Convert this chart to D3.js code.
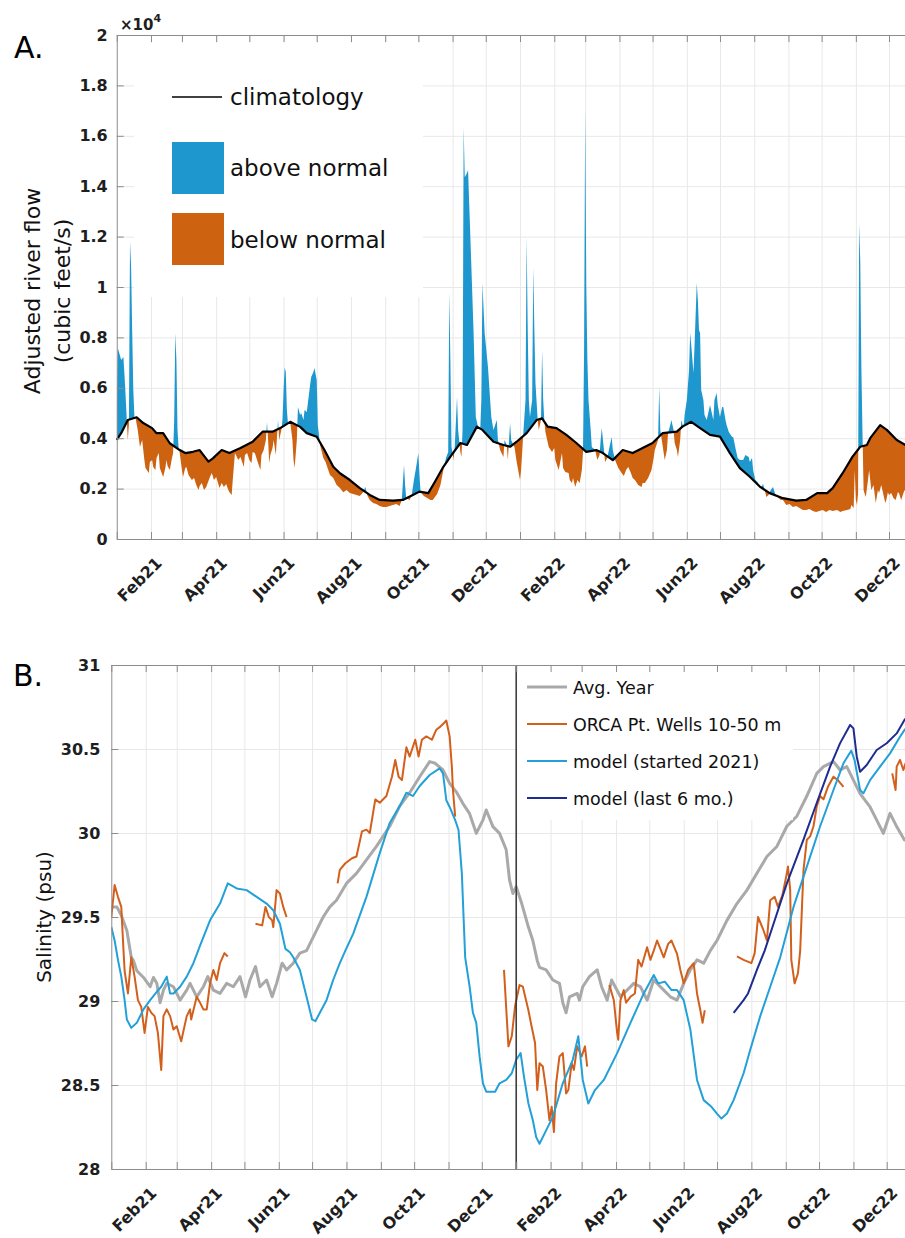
<!DOCTYPE html>
<html>
<head>
<meta charset="utf-8">
<script src="https://cdn.jsdelivr.net/npm/d3@7"></script>
<style>
  body { margin: 0; background: #fff; }
  svg { display: block; font-family: "DejaVu Sans", sans-serif; }
  .grid line { stroke: #e8e8e8; stroke-width: 1; }
  .grid path { display: none; }
  .axis path, .axis line { stroke: #8c8c8c; stroke-width: 1; }
  .axis text, .xlbl { font-family: "DejaVu Sans", sans-serif; font-size: 16px; font-weight: bold; fill: #1e1e1e; }
</style>
</head>
<body>
<div id="chart"></div>
<script>
// ---- panel A: adjusted river flow (cfs), [day since 2021-01-01, value]
var climatology = [[0,3930],[4,4200],[10,4720],[18,4830],[24,4600],[32,4400],[36,4200],[42,4200],[48,3800],[57,3530],[62,3410],[69,3460],[75,3530],[83,3070],[87,3200],[95,3530],[102,3410],[112,3610],[123,3860],[132,4260],[141,4260],[148,4400],[157,4650],[166,4450],[172,4200],[181,4060],[188,3530],[196,2870],[202,2610],[211,2340],[220,2020],[229,1750],[238,1550],[250,1520],[259,1550],[268,1750],[274,1880],[282,1820],[288,2270],[295,2820],[302,3270],[311,3810],[317,3730],[326,4460],[331,4330],[341,3860],[350,3730],[356,3660],[362,3860],[371,4200],[380,4720],[385,4790],[390,4460],[398,4400],[407,4130],[416,3810],[425,3460],[434,3530],[440,3410],[449,3130],[458,3530],[467,3410],[476,3610],[485,3810],[494,4200],[507,4260],[512,4460],[520,4650],[528,4400],[537,4130],[546,4060],[555,3410],[564,2810],[573,2470],[582,2080],[591,1820],[603,1620],[615,1520],[624,1550],[634,1820],[643,1820],[648,2020],[657,2610],[666,3270],[673,3660],[679,3730],[682,4000],[691,4520],[697,4330],[706,3930],[714,3730],[730,3700]];

var flow = [[0,5400],[1,7580],[2,7420],[4,7100],[6,7220],[7,6510],[8,5710],[9,4800],[10,3930],[11,4520],[12,11820],[13,10790],[14,8170],[15,5910],[16,4840],[17,4800],[19,4330],[21,3650],[23,3930],[25,3130],[26,2820],[29,2620],[30,3060],[32,3130],[33,2860],[35,2740],[36,3210],[38,3410],[39,2820],[41,2580],[42,2460],[44,2820],[45,3130],[46,2900],[48,2740],[50,3210],[51,3410],[52,4720],[53,8170],[54,7100],[55,4330],[56,3610],[57,3410],[59,2740],[60,2460],[62,2820],[63,2860],[65,2540],[68,2340],[70,2420],[72,2140],[74,1940],[75,2100],[77,2220],[79,1940],[81,2060],[84,2420],[86,2620],[88,2340],[90,2460],[93,2020],[95,2220],[97,2060],[99,2180],[101,1940],[102,1860],[104,1750],[105,2340],[107,3410],[110,3130],[112,3250],[115,2860],[116,3330],[118,3410],[120,3130],[122,3020],[123,3450],[125,3410],[127,3130],[130,2740],[131,3330],[133,3530],[135,3930],[136,4640],[137,3930],[138,3020],[139,3330],[141,3610],[142,3930],[144,3330],[146,4720],[147,3930],[149,4330],[150,4720],[151,5910],[152,6820],[153,6630],[154,5120],[155,4560],[157,4640],[159,3930],[160,3130],[161,2820],[163,3930],[164,5240],[166,4920],[167,5000],[169,4720],[170,5120],[172,5040],[173,5400],[175,6110],[176,6430],[178,6630],[179,6790],[181,6310],[182,4520],[184,3730],[187,3210],[189,3060],[193,2540],[196,2420],[199,2140],[202,2020],[205,1860],[208,1940],[211,1830],[214,1790],[217,1750],[220,1710],[223,1860],[225,2060],[227,1710],[229,1550],[232,1430],[235,1390],[238,1310],[241,1270],[244,1270],[247,1310],[250,1350],[253,1390],[256,1310],[258,1550],[260,2940],[261,2140],[262,1630],[265,1550],[267,1750],[269,2340],[271,2860],[273,3410],[274,2540],[275,1860],[278,1710],[281,1630],[284,1550],[286,1550],[290,1790],[293,2140],[296,2820],[298,3210],[300,3450],[301,9800],[302,7100],[303,3650],[305,3130],[306,3730],[308,5630],[309,4330],[311,3450],[312,3250],[313,4330],[314,16350],[315,14360],[317,14520],[318,14640],[319,13330],[321,10790],[323,8170],[325,4840],[327,4440],[329,4330],[330,5520],[331,10160],[333,8170],[336,6830],[339,4840],[341,4330],[344,4720],[345,3930],[347,3530],[350,3250],[351,3930],[353,3730],[354,3130],[356,4600],[357,3930],[359,3730],[360,3650],[362,3060],[365,2340],[366,2740],[368,4210],[370,5520],[371,12000],[372,8290],[373,5520],[374,4840],[376,5520],[377,10790],[378,8290],[379,6190],[381,4720],[382,4330],[384,4720],[385,7500],[386,5520],[387,4720],[388,4250],[391,3650],[394,3450],[396,3610],[397,3130],[400,2740],[403,3410],[404,2820],[406,2660],[409,2620],[410,2340],[412,2220],[413,2420],[415,2060],[417,2340],[419,2220],[421,2740],[422,3410],[423,7500],[424,17000],[425,10000],[426,7100],[427,5520],[429,4330],[430,3650],[433,3530],[435,3130],[437,3330],[438,3930],[439,4400],[441,3530],[442,3060],[444,3210],[446,3650],[448,4050],[449,3530],[451,3130],[454,2820],[457,2620],[459,2500],[461,2740],[463,2860],[465,2660],[467,2420],[469,2340],[472,2140],[475,2060],[476,2220],[478,2220],[481,2420],[484,2740],[486,3210],[487,3530],[490,3930],[491,6030],[492,4330],[494,3730],[496,3130],[498,3530],[499,4210],[501,4520],[502,4720],[504,4330],[505,3810],[507,3530],[508,3250],[510,3930],[511,4720],[513,4400],[514,4920],[516,5520],[518,6710],[519,8170],[520,7700],[522,6590],[523,7700],[525,10160],[526,9480],[527,8290],[528,8170],[529,5910],[531,5520],[532,4920],[534,4720],[536,5120],[537,5320],[538,5120],[540,4720],[541,5520],[543,5790],[544,5320],[546,4840],[548,5240],[549,5240],[551,4720],[552,4520],[554,4250],[557,4050],[558,4050],[560,3610],[561,3410],[562,3210],[564,3130],[567,3130],[569,3330],[572,3250],[573,3060],[575,3210],[576,2740],[578,2340],[580,2260],[582,2060],[584,2100],[585,2180],[587,1860],[588,1670],[590,1750],[592,1940],[594,2060],[596,1790],[599,1630],[601,1550],[603,1550],[606,1350],[609,1390],[612,1270],[615,1310],[618,1230],[621,1150],[624,1150],[627,1190],[630,1110],[633,1070],[636,1110],[639,1150],[642,1070],[645,1150],[648,1110],[652,1150],[655,1070],[657,1110],[661,1150],[664,1190],[665,1350],[667,1230],[668,2740],[669,1550],[670,1350],[671,1800],[672,12500],[673,11000],[674,6800],[675,4200],[676,1940],[677,1790],[678,1670],[680,2340],[681,2740],[683,1940],[685,2140],[687,1430],[689,1940],[690,1830],[692,2140],[693,1940],[695,1550],[696,1430],[698,1860],[699,1750],[701,1830],[703,1630],[705,1550],[707,1860],[708,1830],[710,1550],[713,1940],[715,1750],[718,1750],[730,1800]];

var flowTicks = [0, 2000, 4000, 6000, 8000, 10000, 12000, 14000, 16000, 18000, 20000];

// ---- panel B: salinity (psu), [day since 2021-01-01, value]; null = gap
var avgYear = [[0,29.56],[5,29.56],[9,29.51],[14,29.42],[18,29.26],[20,29.24],[23,29.18],[29,29.14],[35,29.085],[38,29.14],[41,29.105],[44,28.99],[47,29.065],[50,29.105],[56,29.085],[62,29.005],[68,29.065],[71,29.105],[77,29.025],[83,29.085],[87,29.145],[92,29.065],[98,29.045],[104,29.105],[110,29.085],[116,29.145],[121,29.025],[125,29.125],[130,29.205],[134,29.085],[140,29.125],[145,29.025],[149,29.105],[154,29.225],[158,29.185],[164,29.225],[170,29.285],[176,29.30],[179,29.34],[185,29.42],[191,29.50],[197,29.56],[203,29.60],[212,29.70],[221,29.76],[230,29.84],[239,29.92],[245,29.98],[251,30.04],[260,30.16],[269,30.24],[278,30.335],[287,30.425],[292,30.415],[299,30.375],[305,30.295],[311,30.245],[317,30.175],[323,30.115],[329,29.998],[335,30.077],[338,30.137],[344,30.038],[350,29.998],[356,29.90],[359,29.72],[362,29.64],[365,29.68],[370,29.58],[376,29.44],[380,29.36],[384,29.24],[386,29.20],[392,29.185],[398,29.125],[404,29.105],[407,28.99],[410,28.93],[413,29.025],[420,29.045],[422,29.005],[425,29.085],[431,29.145],[438,29.185],[442,29.085],[447,29.005],[451,29.125],[459,29.025],[465,29.065],[471,29.105],[477,29.085],[483,29.005],[489,29.125],[498,29.065],[504,29.025],[510,29.005],[516,29.105],[522,29.185],[528,29.245],[534,29.225],[540,29.30],[546,29.36],[555,29.48],[564,29.58],[573,29.66],[582,29.76],[591,29.86],[600,29.92],[609,30.04],[618,30.10],[627,30.22],[636,30.355],[642,30.395],[651,30.425],[657,30.375],[663,30.395],[669,30.315],[675,30.235],[684,30.155],[690,30.077],[696,29.998],[702,30.117],[708,30.038],[715,29.958],[730,29.98]];

var orca = [[0,29.50],[3,29.69],[6,29.62],[9,29.56],[11,29.30],[12,29.18],[15,29.045],[18,29.26],[21,29.145],[24,29.005],[27,28.965],[30,28.81],[33,28.965],[36,28.93],[39,28.91],[42,28.81],[45,28.59],[47,28.91],[50,28.95],[53,28.91],[56,28.83],[59,28.85],[63,28.76],[68,28.91],[71,28.95],[72,28.89],[77,29.025],[80,28.99],[83,28.95],[86,28.95],[89,29.105],[92,29.185],[95,29.125],[98,29.225],[102,29.285],[105,29.265],[106,null],
  [130,29.46],[136,29.45],[139,29.56],[142,29.50],[145,29.48],[146,29.44],[149,29.66],[152,29.64],[155,29.56],[158,29.50],[159,null],
  [204,29.70],[206,29.78],[211,29.82],[217,29.85],[221,29.86],[226,30.01],[230,30.02],[233,30.00],[238,30.20],[242,30.18],[248,30.22],[253,30.335],[256,30.435],[259,30.335],[262,30.315],[266,30.51],[269,30.455],[274,30.555],[277,30.455],[280,30.555],[284,30.575],[289,30.555],[293,30.615],[296,30.63],[300,30.655],[302,30.67],[305,30.575],[307,30.395],[308,30.256],[310,30.097],[311,null],
  [354,29.185],[358,28.73],[361,28.79],[364,28.97],[368,29.095],[371,29.085],[376,28.945],[379,28.845],[382,28.75],[384,28.47],[386,28.63],[389,28.61],[392,28.47],[395,28.29],[397,28.37],[399,28.22],[401,28.51],[404,28.67],[407,28.69],[410,28.45],[412,28.47],[415,28.63],[417,28.59],[420,28.73],[424,28.67],[427,28.73],[429,28.61],[430,null],
  [449,29.095],[453,29.005],[456,28.81],[457,28.77],[459,29.005],[462,29.065],[464,28.99],[468,29.025],[472,29.045],[475,29.245],[478,29.205],[483,29.32],[486,29.245],[489,29.30],[492,29.36],[495,29.31],[498,29.26],[502,29.34],[505,29.36],[510,29.28],[513,29.185],[516,29.105],[520,29.185],[525,29.225],[528,29.045],[531,28.945],[533,28.87],[535,28.945],[536,null],
  [564,29.265],[570,29.245],[577,29.225],[580,29.285],[583,29.50],[588,29.42],[591,29.36],[594,29.60],[598,29.62],[601,29.56],[605,29.63],[609,29.76],[610,29.80],[612,29.66],[613,29.245],[616,29.105],[619,29.165],[621,29.30],[624,29.78],[627,29.96],[630,29.98],[633,30.04],[636,30.16],[639,30.22],[642,30.20],[646,30.275],[651,30.335],[655,30.315],[660,30.275],[661,null],
  [704,30.355],[707,30.256],[708,30.395],[711,30.435],[714,30.375],[716,30.415],[720,30.375]];

var modelStarted2021 = [[0,29.44],[3,29.36],[6,29.245],[9,29.145],[12,29.005],[14,28.89],[18,28.84],[23,28.87],[29,28.95],[35,29.005],[41,29.055],[45,29.085],[50,29.145],[53,29.045],[56,29.045],[62,29.085],[68,29.145],[74,29.225],[80,29.33],[89,29.48],[98,29.58],[105,29.70],[113,29.67],[122,29.66],[131,29.62],[140,29.58],[146,29.54],[152,29.46],[157,29.31],[161,29.29],[164,29.26],[170,29.185],[176,29.025],[181,28.89],[184,28.88],[188,28.93],[194,29.005],[200,29.125],[206,29.225],[211,29.30],[218,29.40],[230,29.62],[242,29.88],[251,30.06],[260,30.16],[266,30.24],[272,30.22],[278,30.28],[287,30.345],[296,30.385],[299,30.355],[302,30.195],[305,30.155],[310,30.077],[313,30.018],[316,29.76],[319,29.26],[323,29.085],[326,28.93],[329,28.87],[332,28.67],[335,28.51],[338,28.46],[346,28.46],[350,28.51],[356,28.53],[361,28.57],[365,28.65],[369,28.69],[372,28.55],[376,28.39],[380,28.29],[383,28.19],[386,28.15],[392,28.23],[398,28.31],[407,28.51],[416,28.65],[421,28.79],[425,28.53],[430,28.39],[436,28.47],[444,28.53],[456,28.69],[468,28.87],[480,29.045],[489,29.155],[493,29.105],[499,29.115],[505,29.065],[510,29.065],[516,29.005],[522,28.83],[528,28.53],[534,28.41],[541,28.37],[546,28.33],[550,28.30],[555,28.33],[561,28.41],[570,28.57],[576,28.71],[585,28.91],[594,29.085],[603,29.26],[615,29.56],[627,29.80],[639,30.04],[651,30.256],[660,30.415],[667,30.49],[670,30.435],[675,30.256],[678,30.236],[684,30.315],[693,30.395],[702,30.474],[711,30.573],[715,30.613],[724,30.67]];

var modelLast6mo = [[561,28.93],[570,29.005],[574,29.045],[582,29.185],[589,29.30],[597,29.46],[609,29.70],[624,29.96],[636,30.18],[648,30.395],[657,30.535],[666,30.643],[669,30.623],[672,30.454],[675,30.365],[681,30.405],[690,30.494],[699,30.534],[708,30.593],[715,30.673],[724,30.74]];

var salinityTicks = [28, 28.5, 29, 29.5, 30, 30.5, 31];

var xTickLabels = ["Feb21", "Apr21", "Jun21", "Aug21", "Oct21", "Dec21", "Feb22", "Apr22", "Jun22", "Aug22", "Oct22", "Dec22"];

var W = 905, H = 1238;
var t0 = Date.UTC(2021, 0, 1);
function day(d) { return new Date(t0 + d * 864e5); }
var parseMonth = d3.utcParse("%b%y");
var months = d3.utcMonth.range(day(0), day(731));

var svg = d3.select("#chart").append("svg")
    .attr("width", W)
    .attr("height", H);

var defs = svg.append("defs");

var boxA = {left: 116.75, top: 35, bottom: 539, right: 116.75 + 730 * 1.1048, pad: 9},
    boxB = {left: 111.3, top: 665, bottom: 1169, right: 111.3 + 730 * 1.1093, pad: 11};

var xA = d3.scaleUtc().domain([day(0), day(730)]).range([boxA.left, boxA.right]);
var yA = d3.scaleLinear().domain([0, 20000]).range([boxA.bottom, boxA.top]);
var xB = d3.scaleUtc().domain([day(0), day(730)]).range([boxB.left, boxB.right]);
var yB = d3.scaleLinear().domain([28, 31]).range([boxB.bottom, boxB.top]);

function grid(g, x, y, yTicks, box) {
  g.append("g").attr("class", "grid")
      .attr("transform", "translate(0," + box.bottom + ")")
      .call(d3.axisBottom(x).tickValues(months.slice(1)).tickSize(box.top - box.bottom).tickFormat(""));
  g.append("g").attr("class", "grid")
      .attr("transform", "translate(" + box.left + ",0)")
      .call(d3.axisLeft(y).tickValues(yTicks.slice(1)).tickSize(box.left - box.right).tickFormat(""));
}

function axes(g, x, y, yTicks, yFmt, box) {
  g.append("g").attr("class", "axis")
      .attr("transform", "translate(0," + box.bottom + ")")
      .call(d3.axisBottom(x).tickValues(months).tickSize(-7).tickSizeOuter(0).tickFormat(""));
  g.append("g").attr("class", "axis")
      .attr("transform", "translate(0," + box.top + ")")
      .call(d3.axisTop(x).tickValues(months).tickSize(-7).tickSizeOuter(0).tickFormat(""));
  g.append("g").attr("class", "axis")
      .attr("transform", "translate(" + box.left + ",0)")
      .call(d3.axisLeft(y).tickValues(yTicks).tickSize(-7).tickSizeOuter(0).tickPadding(box.pad).tickFormat(yFmt));
  g.append("g").selectAll("text")
      .data(xTickLabels)
    .enter().append("text")
      .attr("class", "xlbl")
      .attr("text-anchor", "end")
      .attr("transform", d => "translate(" + (x(parseMonth(d)) + 12) + "," + (box.bottom + 25) + ") rotate(-45)")
      .text(d => d);
}

// ================= panel A =================
var gA = svg.append("g");
grid(gA, xA, yA, flowTicks, boxA);

var fx = d => xA(day(d[0]));
var areaFlowDown = d3.area().x(fx).y0(boxA.bottom).y1(d => yA(d[1]));
var areaFlowUp = d3.area().x(fx).y0(boxA.top).y1(d => yA(d[1]));
var areaClimDown = d3.area().x(fx).y0(boxA.bottom).y1(d => yA(d[1]));
var areaClimUp = d3.area().x(fx).y0(boxA.top).y1(d => yA(d[1]));

defs.append("clipPath").attr("id", "aboveClim")
  .append("path").attr("d", areaClimUp(climatology));
defs.append("clipPath").attr("id", "aboveFlow")
  .append("path").attr("d", areaFlowUp(flow));

gA.append("path")
    .attr("d", areaFlowDown(flow))
    .attr("fill", "#1e97ce")
    .attr("clip-path", "url(#aboveClim)");

gA.append("path")
    .attr("d", areaClimDown(climatology))
    .attr("fill", "#cd6210")
    .attr("clip-path", "url(#aboveFlow)");

gA.append("path")
    .attr("d", d3.line().x(fx).y(d => yA(d[1]))(climatology))
    .attr("fill", "none")
    .attr("stroke", "#000")
    .attr("stroke-width", 2.2)
    .attr("stroke-linejoin", "round");

// legend A
var legA = gA.append("g");
legA.append("rect").attr("x", 134).attr("y", 43).attr("width", 289).attr("height", 254).attr("fill", "#fff");
legA.append("line").attr("x1", 172).attr("x2", 222).attr("y1", 97).attr("y2", 97)
    .attr("stroke", "#000").attr("stroke-width", 1.5);
legA.append("rect").attr("x", 172).attr("y", 142).attr("width", 52).attr("height", 52).attr("fill", "#1e97ce");
legA.append("rect").attr("x", 172).attr("y", 213).attr("width", 52).attr("height", 52).attr("fill", "#cd6210");
legA.selectAll("text")
    .data([["climatology", 105], ["above normal", 176], ["below normal", 248]])
  .enter().append("text")
    .attr("x", 230).attr("y", d => d[1])
    .style("font-size", "23px").style("fill", "#111")
    .text(d => d[0]);

axes(gA, xA, yA, flowTicks, d => d3.format("~g")(d / 10000), boxA);

gA.append("text").attr("x", 120).attr("y", 30)
    .style("font-size", "15px").style("font-weight", "bold").style("fill", "#1e1e1e")
    .text("\u00d710")
  .append("tspan").attr("dy", -8).style("font-size", "11px").text("4");

gA.append("text").attr("transform", "translate(40,291) rotate(-90)")
    .attr("text-anchor", "middle").style("font-size", "22px").style("fill", "#111")
    .text("Adjusted river flow");
gA.append("text").attr("transform", "translate(70,291) rotate(-90)")
    .attr("text-anchor", "middle").style("font-size", "22px").style("fill", "#111")
    .text("(cubic feet/s)");

svg.append("text").attr("x", 14).attr("y", 58).style("font-size", "30px").style("fill", "#000").text("A.");

// ================= panel B =================
var gB = svg.append("g");
grid(gB, xB, yB, salinityTicks, boxB);

defs.append("clipPath").attr("id", "plotB")
  .append("rect").attr("x", boxB.left).attr("y", boxB.top)
    .attr("width", boxB.right - boxB.left).attr("height", boxB.bottom - boxB.top);

var lineB = d3.line()
    .defined(d => d[1] != null)
    .x(d => xB(day(d[0])))
    .y(d => yB(d[1]));

var series = [
  {name: "Avg. Year", data: avgYear, color: "#a9a9a9", width: 3},
  {name: "ORCA Pt. Wells 10-50 m", data: orca, color: "#d2601c", width: 2},
  {name: "model (started 2021)", data: modelStarted2021, color: "#23a0d8", width: 2},
  {name: "model (last 6 mo.)", data: modelLast6mo, color: "#1d2c91", width: 2}
];

gB.append("g").attr("clip-path", "url(#plotB)")
  .selectAll("path")
    .data(series)
  .enter().append("path")
    .attr("d", d => lineB(d.data))
    .attr("fill", "none")
    .attr("stroke", d => d.color)
    .attr("stroke-width", d => d.width)
    .attr("stroke-linejoin", "round");

// legend B
var legB = gB.append("g");
legB.append("rect").attr("x", 517).attr("y", 666).attr("width", 276).attr("height", 154).attr("fill", "#fff");
var items = legB.selectAll(".item")
    .data(series)
  .enter().append("g")
    .attr("transform", (d, i) => "translate(0," + (687 + i * 37) + ")");
items.append("line").attr("x1", 527).attr("x2", 567)
    .attr("stroke", d => d.color).attr("stroke-width", d => d.width);
items.append("text").attr("x", 573).attr("y", 7)
    .style("font-size", "17.5px").style("fill", "#111")
    .text(d => d.name);

gB.append("line")
    .attr("x1", xB(day(365))).attr("x2", xB(day(365)))
    .attr("y1", boxB.top).attr("y2", boxB.bottom)
    .attr("stroke", "#333").attr("stroke-width", 1.5);

axes(gB, xB, yB, salinityTicks, d3.format("~g"), boxB);

gB.append("text").attr("transform", "translate(51,917) rotate(-90)")
    .attr("text-anchor", "middle").style("font-size", "20px").style("fill", "#111")
    .text("Salinity (psu)");

svg.append("text").attr("x", 13).attr("y", 686).style("font-size", "30px").style("fill", "#000").text("B.");
</script>
</body>
</html>
